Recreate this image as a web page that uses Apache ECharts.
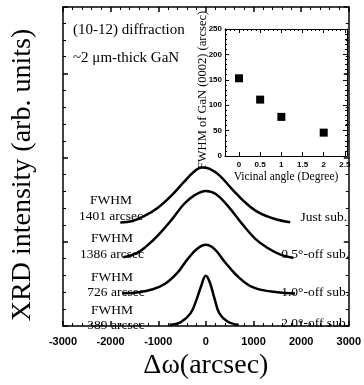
<!DOCTYPE html>
<html>
<head>
<meta charset="utf-8">
<script src="https://cdn.jsdelivr.net/npm/echarts@6/dist/echarts.min.js"></script>
<style>
  html, body { margin: 0; padding: 0; background: #fff; }
  #chart { width: 364px; height: 385px; }
</style>
</head>
<body>
<div id="chart"></div>
<script>
// rocking curves, offset vertically, [delta omega (arcsec), intensity (arb.)]
const justSub = [[-1797, 1.229], [-1541, 1.248], [-1270, 1.314], [-1000, 1.41], [-730, 1.547], [-459, 1.713], [-257, 1.83], [-88, 1.884], [81, 1.868], [284, 1.79], [554, 1.624], [824, 1.469], [1095, 1.353], [1432, 1.275], [1770, 1.233]];
const off05Sub = [[-1730, 0.818], [-1473, 0.86], [-1270, 0.938], [-1000, 1.081], [-730, 1.256], [-459, 1.45], [-257, 1.547], [0, 1.605], [216, 1.566], [486, 1.41], [757, 1.217], [1027, 1.043], [1297, 0.927], [1568, 0.849], [1838, 0.81]];
const off10Sub = [[-1743, 0.391], [-1405, 0.403], [-1135, 0.434], [-865, 0.5], [-595, 0.636], [-392, 0.79], [-189, 0.915], [0, 0.965], [182, 0.915], [385, 0.771], [622, 0.616], [892, 0.488], [1162, 0.43], [1500, 0.403], [1872, 0.388]];
const off20Sub = [[-764, 0.015], [-527, 0.047], [-324, 0.151], [-189, 0.326], [-108, 0.461], [0, 0.597], [81, 0.52], [182, 0.326], [284, 0.151], [453, 0.055], [689, 0.015]];

// inset: FWHM of GaN (0002) vs vicinal angle
const vicinalAngle = [0, 0.5, 1, 2];
const fwhm0002 = [153, 111, 77, 46];
const insetXTicks = [0, 0.5, 1, 1.5, 2, 2.5];
const insetXMinor = [-0.3, -0.2, -0.1, 0.1, 0.2, 0.3, 0.4, 0.6, 0.7, 0.8, 0.9, 1.1, 1.2, 1.3, 1.4, 1.6, 1.7, 1.8, 1.9, 2.1, 2.2, 2.3, 2.4];

const serif = "Liberation Serif";
const sans = "Liberation Sans";

const chart = echarts.init(document.getElementById("chart"));

const line = { color: "#000", width: 1.5 };
const thin = { color: "#000", width: 1 };
const tickIn = { show: true, inside: true, length: 5, lineStyle: line };
const minorIn = { show: true, splitNumber: 5, length: 3, lineStyle: thin };
const plain = (v) => String(v);

function curve(data) {
  return {
    type: "line",
    xAxisIndex: 0,
    yAxisIndex: 0,
    data: data,
    smooth: 0.4,
    symbol: "none",
    lineStyle: { color: "#000", width: 2.5 },
    silent: true,
  };
}

function label(text, x, y, align, size, rotation) {
  return {
    type: "text",
    x: x,
    y: y,
    rotation: rotation || 0,
    style: {
      text: text,
      font: (size || 13.5) + "px " + serif,
      fill: "#000",
      align: align || "center",
      verticalAlign: "middle",
    },
  };
}

const option = {
  animation: false,
  backgroundColor: "#fff",
  grid: [
    { left: 63, right: 5, top: 7, bottom: 52 },
    { left: 225, right: 17, top: 29, bottom: 229, show: true, backgroundColor: "#fff", borderWidth: 0 },
  ],
  xAxis: [
    {
      gridIndex: 0, type: "value", min: -3000, max: 3000, interval: 1000,
      axisLine: { show: true, onZero: false, lineStyle: line },
      axisTick: tickIn, minorTick: minorIn,
      splitLine: { show: false },
      axisLabel: { fontFamily: sans, fontWeight: "bold", fontSize: 11, color: "#000", margin: 10, formatter: plain },
      name: "Δω(arcsec)", nameLocation: "middle", nameGap: 18,
      nameTextStyle: { fontFamily: serif, fontSize: 28, color: "#000" },
    },
    {
      gridIndex: 0, type: "value", position: "top", min: -3000, max: 3000, interval: 1000,
      axisLine: { show: true, onZero: false, lineStyle: line },
      axisTick: tickIn, minorTick: minorIn,
      splitLine: { show: false }, axisLabel: { show: false },
    },
    {
      gridIndex: 1, type: "value", min: -0.33, max: 2.55,
      axisLine: { show: true, onZero: false, lineStyle: thin },
      axisTick: { show: true, inside: true, length: 4, customValues: insetXTicks, lineStyle: thin },
      splitLine: { show: false },
      axisLabel: { customValues: insetXTicks, fontFamily: sans, fontWeight: "bold", fontSize: 8, color: "#000", margin: 5, formatter: plain },
      name: "Vicinal angle (Degree)", nameLocation: "middle", nameGap: 15,
      nameTextStyle: { fontFamily: serif, fontSize: 11.5, color: "#000" },
    },
    {
      gridIndex: 1, type: "value", position: "top", min: -0.33, max: 2.55,
      axisLine: { show: true, onZero: false, lineStyle: thin },
      axisTick: { show: true, inside: true, length: 4, customValues: insetXTicks, lineStyle: thin },
      splitLine: { show: false }, axisLabel: { show: false },
    },
    {
      gridIndex: 1, type: "value", min: -0.33, max: 2.55,
      axisLine: { show: false, onZero: false },
      axisTick: { show: true, inside: true, length: 2, customValues: insetXMinor, lineStyle: thin },
      splitLine: { show: false }, axisLabel: { show: false },
    },
    {
      gridIndex: 1, type: "value", position: "top", min: -0.33, max: 2.55,
      axisLine: { show: false, onZero: false },
      axisTick: { show: true, inside: true, length: 2, customValues: insetXMinor, lineStyle: thin },
      splitLine: { show: false }, axisLabel: { show: false },
    },
  ],
  yAxis: [
    {
      gridIndex: 0, type: "value", min: 0, max: 3.79, interval: 1,
      axisLine: { show: true, onZero: false, lineStyle: line },
      axisTick: tickIn, minorTick: minorIn,
      splitLine: { show: false }, axisLabel: { show: false },
    },
    {
      gridIndex: 0, type: "value", position: "right", min: 0, max: 3.79, interval: 1,
      axisLine: { show: true, onZero: false, lineStyle: line },
      axisTick: tickIn, minorTick: minorIn,
      splitLine: { show: false }, axisLabel: { show: false },
    },
    {
      gridIndex: 1, type: "value", min: 0, max: 250, interval: 50,
      axisLine: { show: true, onZero: false, lineStyle: thin },
      axisTick: { show: true, inside: true, length: 4, lineStyle: thin },
      minorTick: { show: true, splitNumber: 5, length: 2, lineStyle: thin },
      splitLine: { show: false },
      axisLabel: { fontFamily: sans, fontWeight: "bold", fontSize: 8, color: "#000", margin: 3 },
    },
    {
      gridIndex: 1, type: "value", position: "right", min: 0, max: 250, interval: 50,
      axisLine: { show: true, onZero: false, lineStyle: thin },
      axisTick: { show: true, inside: true, length: 4, lineStyle: thin },
      minorTick: { show: true, splitNumber: 5, length: 2, lineStyle: thin },
      splitLine: { show: false }, axisLabel: { show: false },
    },
  ],
  series: [
    curve(justSub),
    curve(off05Sub),
    curve(off10Sub),
    curve(off20Sub),
    {
      type: "scatter",
      xAxisIndex: 2,
      yAxisIndex: 2,
      data: vicinalAngle.map((a, i) => [a, fwhm0002[i]]),
      symbol: "rect",
      symbolSize: 8,
      itemStyle: { color: "#000", opacity: 1 },
    },
  ],
  graphic: [
    label("XRD intensity (arb. units)", 23, 175, "center", 28, Math.PI / 2),
    label("FWHM of GaN (0002) (arcsec)", 203, 90, "center", 12.5, Math.PI / 2),
    label("(10-12) diffraction", 73, 30, "left", 15),
    label("~2 μm-thick GaN", 73, 58, "left", 15),
    label("FWHM", 111, 200),
    label("1401 arcsec", 111, 216),
    label("FWHM", 112, 238),
    label("1386 arcsec", 112, 254),
    label("FWHM", 112, 277),
    label("726 arcsec", 116, 292),
    label("FWHM", 112, 310),
    label("389 arcsec", 116, 325),
    label("Just sub.", 347, 217, "right"),
    label("0.5°-off sub.", 349, 254, "right"),
    label("1.0°-off sub.", 349, 292, "right"),
    label("2.0°-off sub.", 349, 323, "right"),
  ],
};

chart.setOption(option);
</script>
</body>
</html>
